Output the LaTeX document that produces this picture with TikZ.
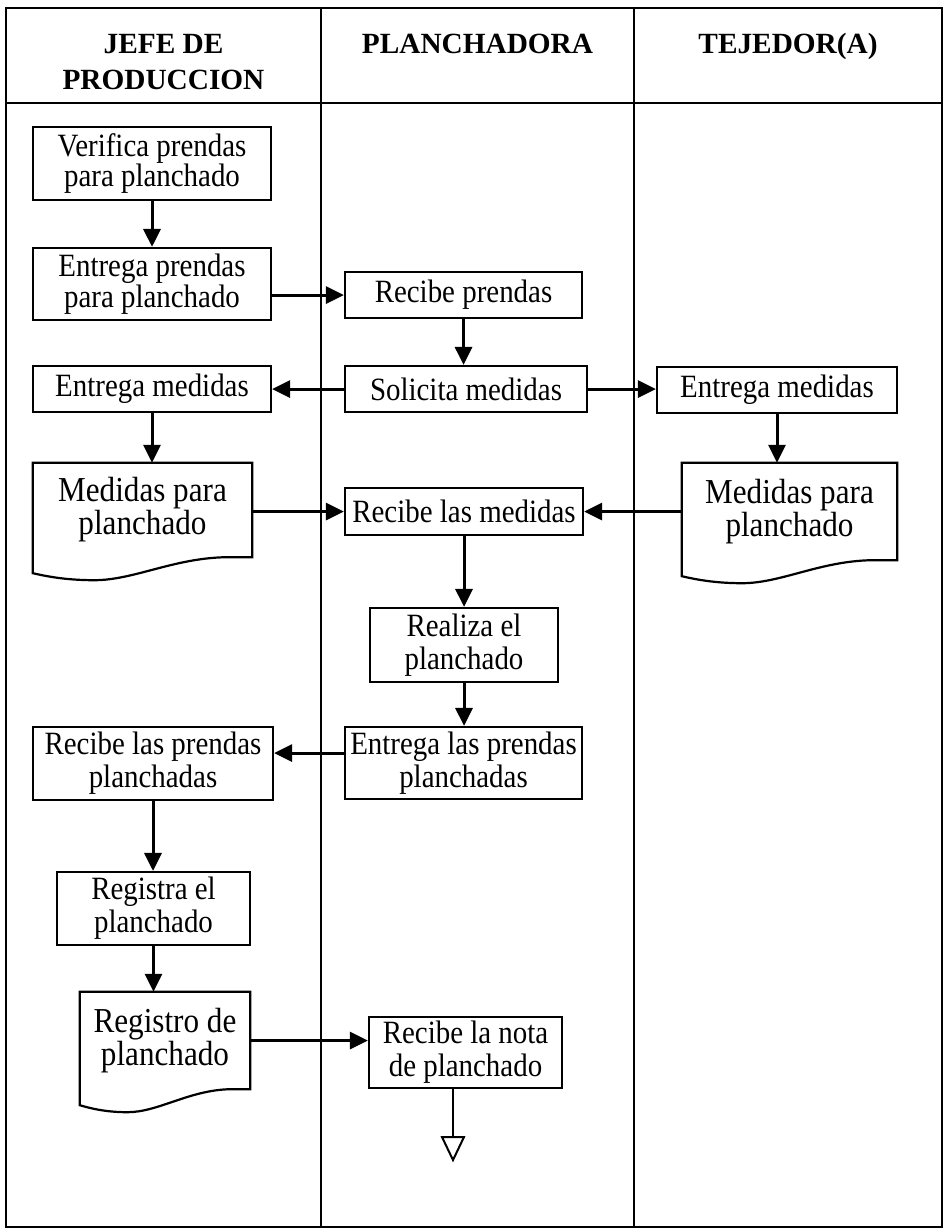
\documentclass[tikz,border=0pt]{standalone}
\usepackage{fontspec}
\setmainfont{Liberation Serif}
\newfontfamily\boxfont[FakeStretch=0.89]{Liberation Serif}
\usetikzlibrary{calc,arrows.meta}
\newcommand\docwave[1]{%
  \draw[docline] (#1.north west) -- (#1.north east) -- (#1.south east)
    -- ($(#1.south west)!0.88!(#1.south east)$)
    .. controls ($(#1.south west)!0.64!(#1.south east)+(0,1)$) and ($(#1.south west)!0.46!(#1.south east)+(0,23)$)
    .. ($(#1.south west)!0.28!(#1.south east)+(0,23)$)
    .. controls ($(#1.south west)!0.15!(#1.south east)+(0,23)$) and ($(#1.south west)!0.06!(#1.south east)+(0,19)$)
    .. ($(#1.south west)+(0,16)$) -- cycle;}
\tikzset{
  box/.style={draw, line width=2.2pt, inner sep=0pt, align=center, font=\boxfont\fontsize{32.5}{33}\selectfont},
  tight/.style={font=\boxfont\fontsize{32.5}{27}\selectfont},
  doctext/.style={inner sep=0pt, align=center, font=\boxfont\fontsize{35}{33}\selectfont},
  docline/.style={line width=2.2pt, line join=miter},
  arr/.style={line width=3pt, -{Triangle[length=18pt,width=17pt]}},
  hdr/.style={font=\bfseries\fontsize{29.3}{36}\selectfont, align=center, anchor=base},
  frameline/.style={line width=2.6pt},
  endline/.style={line width=2pt, line join=miter}
}
\begin{document}
\begin{tikzpicture}[x=1pt,y=-1pt]
\useasboundingbox (0,0) rectangle (948,1232);
% frame and lanes
\draw[frameline] (6,8) rectangle (942,1227);
\draw[frameline] (6,103) -- (942,103);
\draw[frameline] (321,8) -- (321,1227);
\draw[frameline] (634,8) -- (634,1227);
% headers
\node[hdr] (hjefe) at (163.5,89) {JEFE DE\\PRODUCCION};
\node[hdr] (hplan) at (477.5,53) {PLANCHADORA};
\node[hdr] (htej) at (788,53) {TEJEDOR(A)};
% nodes
\node[box, tight, minimum width=238pt, minimum height=73pt] (v1) at (152,163.5) {Verifica prendas\\para planchado};
\node[box, tight, minimum width=238pt, minimum height=72pt] (e1) at (152,284) {Entrega prendas\\para planchado};
\node[box, minimum width=237pt, minimum height=46pt] (rp) at (463.5,295) {Recibe prendas};
\node[box, minimum width=238pt, minimum height=46pt] (eml) at (152,389) {Entrega medidas};
\node[box, minimum width=242pt, minimum height=46pt] (sm) at (466,389) {Solicita medidas};
\node[box, minimum width=240pt, minimum height=46pt] (emr) at (777,390) {Entrega medidas};
\node[doctext, minimum width=219pt, minimum height=94pt] (docl) at (142.5,510) {Medidas para\\planchado};
\docwave{docl}
\node[box, minimum width=238pt, minimum height=47pt] (rm) at (464,511.5) {Recibe las medidas};
\node[doctext, minimum width=215pt, minimum height=97pt] (docr) at (789.5,511.5) {Medidas para\\planchado};
\docwave{docr}
\node[box, minimum width=188pt, minimum height=74pt] (rz) at (464,645) {Realiza el\\planchado};
\node[box, minimum width=237pt, minimum height=72pt] (ep) at (463.5,763) {Entrega las prendas\\planchadas};
\node[box, minimum width=240pt, minimum height=73pt] (rpp) at (153,763.5) {Recibe las prendas\\planchadas};
\node[box, minimum width=193pt, minimum height=73pt] (rg) at (153.5,908.5) {Registra el\\planchado};
\node[doctext, minimum width=170pt, minimum height=97pt] (docreg) at (165,1040.5) {Registro de\\planchado};
\docwave{docreg}
\node[box, minimum width=193pt, minimum height=71pt] (rn) at (465.5,1052.5) {Recibe la nota\\de planchado};
\coordinate (endtop) at (453,1137);
\coordinate (epw) at ([yshift=10pt]ep.west);
% connectors
\draw[arr] (v1.south) -- (e1.north);
\draw[arr] (rp.west -| e1.east) -- (rp.west);
\draw[arr] (rp.south) -- (rp.south |- sm.north);
\draw[arr] (sm.west) -- (sm.west -| eml.east);
\draw[arr] (sm.east) -- (sm.east -| emr.west);
\draw[arr] (eml.south) -- (eml.south |- docl.north);
\draw[arr] (emr.south) -- (emr.south |- docr.north);
\draw[arr] (rm.west -| docl.east) -- (rm.west);
\draw[arr] (rm.east -| docr.west) -- (rm.east);
\draw[arr] (rm.south) -- (rm.south |- rz.north);
\draw[arr] (rz.south) -- (rz.south |- ep.north);
\draw[arr] (epw) -- (epw -| rpp.east);
\draw[arr] (rpp.south) -- (rpp.south |- rg.north);
\draw[arr] (rg.south) -- (rg.south |- docreg.north);
\draw[arr] (docreg.east) -- (docreg.east -| rn.west);
\draw[endline] (rn.south -| endtop) -- (endtop);
\draw[endline] (endtop) +(-11,0) -- +(11,0) -- +(0,23) -- cycle;
\end{tikzpicture}
\end{document}
